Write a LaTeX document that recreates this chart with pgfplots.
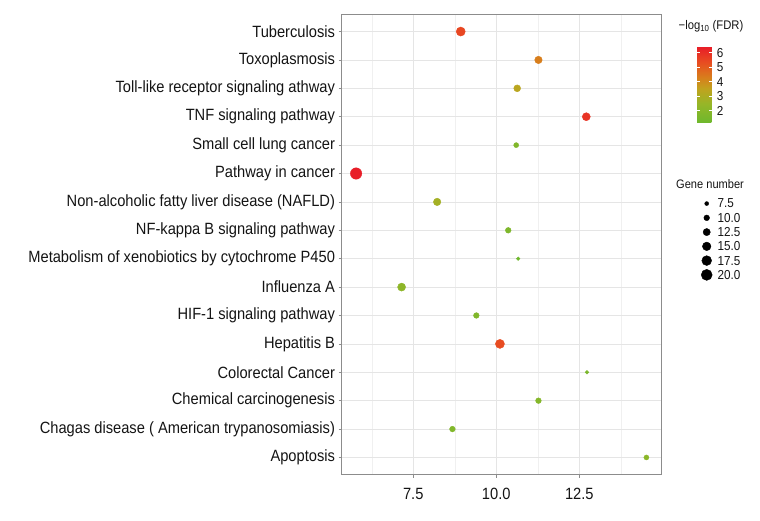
\documentclass[border=0pt]{standalone}
\usepackage{fontspec}
\setmainfont{Liberation Sans}[FakeStretch=0.9]
\usepackage{pgfplots}
\pgfplotsset{compat=1.18}
\definecolor{gridc}{gray}{0.90}
\definecolor{gridm}{gray}{0.94}
\definecolor{bordc}{gray}{0.55}
\definecolor{txt}{gray}{0.08}
\pgfplotstableread{
x n fdr y
8.93 16 5.45 16
11.27 13 4.3 15
10.63 12 3.35 14
12.71 14 5.9 13
10.60 9 1.8 12
5.78 21 6.39 11
8.22 13 2.8 10
10.36 10 1.7 9
10.66 7 1.2 8
7.15 14 2.2 7
9.40 10 1.8 6
10.11 16 5.35 5
12.73 7 1.6 4
11.27 10 1.9 3
8.68 10 1.8 2
14.52 9 2.1 1
}\pathdata
\pgfplotstableread{
x y n
0.5 5.5 7.5
0.5 4.5 10
0.5 3.5 12.5
0.5 2.5 15
0.5 1.5 17.5
0.5 0.5 20
}\sizedata
\begin{document}
\begin{tikzpicture}
\path[use as bounding box] (0,0) rectangle (760pt,520pt);
\begin{axis}[
  at={(341.5pt,45.5pt)}, anchor=south west,
  scale only axis, width=319.5pt, height=460pt,
  xmin=5.34, xmax=14.96, ymin=0.4, ymax=16.6,
  /pgf/number format/assume math mode=true,
  xtick={7.5,10,12.5},
  minor xtick={6.25,8.75,11.25,13.75},
  xticklabel={\pgfmathprintnumber[fixed,fixed zerofill,precision=1]{\tick}},
  ytick={1,...,16},
  yticklabels={Apoptosis,Chagas disease ( American trypanosomiasis),Chemical carcinogenesis,Colorectal Cancer,Hepatitis B,HIF-1 signaling pathway,Influenza A,Metabolism of xenobiotics by cytochrome P450,NF-kappa B signaling pathway,Non-alcoholic fatty liver disease (NAFLD),Pathway in cancer,Small cell lung cancer,TNF signaling pathway,Toll-like receptor signaling athway,Toxoplasmosis,Tuberculosis},
  grid=both,
  major grid style={gridc, line width=0.6pt},
  minor grid style={gridm, line width=0.4pt},
  axis line style={bordc, line width=0.6pt},
  tick style={bordc, line width=0.5pt},
  major tick length=3pt, minor tick length=0pt,
  tick align=outside,
  xtick pos=bottom, ytick pos=left,
  yticklabel style={font=\fontsize{16.3}{18}\selectfont, text=txt},
  xticklabel style={font=\fontsize{16.3}{18}\selectfont, text=txt, yshift=-7pt},
  colormap={fdr}{rgb255(0cm)=(109,184,45) rgb255(25cm)=(150,182,40) rgb255(45cm)=(192,163,30) rgb255(60cm)=(216,126,28) rgb255(80cm)=(232,76,33) rgb255(100cm)=(232,30,40)},
  point meta min=1.15, point meta max=6.39,
  colorbar,
  colorbar style={
    at={(parent axis.north east)}, anchor=north west,
    xshift=27.7pt, yshift=-32.4pt,
    scale only axis, width=15pt, height=76pt,
    /pgf/number format/assume math mode=true,
    ytick={2,3,4,5,6},
    yticklabel pos=right,
    ytick pos=both,
    major tick length=3pt,
    tick align=inside,
    tick style={white, line width=0.6pt},
    axis line style={draw=none},
    grid=none,
    yticklabel style={font=\fontsize{13}{15}\selectfont, text=txt, inner sep=1pt, xshift=3.5pt},
    title={\fontsize{12.5}{15}\selectfont −log\textsubscript{10} (FDR)},
    title style={at={(0,1)}, anchor=base west, xshift=-18.7pt, yshift=11.4pt, inner sep=0pt, text=txt},
  },
]
\addplot[scatter, only marks, mark=*,
  point meta=\thisrow{fdr},
  scatter/use mapped color={draw=mapped color, fill=mapped color},
  visualization depends on={2+2.02*(sqrt(\thisrow{n})-2.739) \as \rad},
  scatter/@pre marker code/.append style={/tikz/mark size=\rad}
] table[x=x, y=y] {\pathdata};
\end{axis}
\begin{axis}[
  at={(696.7pt,238pt)}, anchor=south west,
  scale only axis, width=20pt, height=85.56pt,
  xmin=0, xmax=1, ymin=0, ymax=6,
  hide axis, clip=false,
  /pgf/number format/assume math mode=true,
]
\addplot[scatter, only marks, mark=*,
  point meta=\thisrow{n},
  scatter/use mapped color={draw=black, fill=black},
  visualization depends on={2+2.02*(sqrt(\thisrow{n})-2.739) \as \rad},
  scatter/@pre marker code/.append style={/tikz/mark size=\rad}
] table[x=x, y=y] {\sizedata};
\addplot[draw=none, mark=none,
  point meta=\thisrow{n},
  nodes near coords={\pgfmathprintnumber[fixed,fixed zerofill,precision=1]{\pgfplotspointmeta}},
  every node near coord/.append style={anchor=west, inner sep=0pt, xshift=10.6pt, yshift=0pt, font=\fontsize{13}{15}\selectfont, text=txt}
] table[x=x, y=y] {\sizedata};
\node[anchor=base west, inner sep=0pt, xshift=-20.7pt, yshift=7.9pt, font=\fontsize{12.3}{15}\selectfont, text=txt] at (rel axis cs:0,1) {Gene number};
\end{axis}
\end{tikzpicture}
\end{document}
